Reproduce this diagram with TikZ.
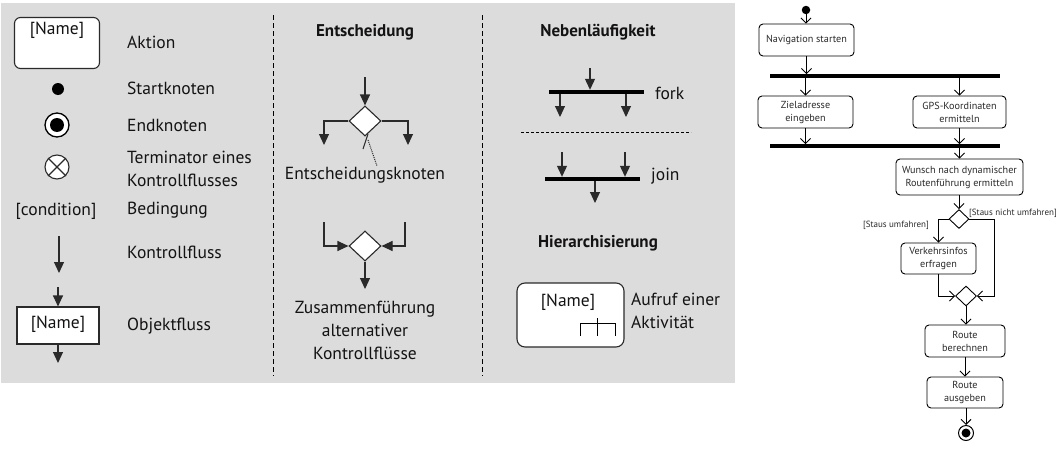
\documentclass[tikz,border=0pt]{standalone}
\usepackage{fontspec}
\setmainfont{PT Sans}
\usetikzlibrary{arrows.meta,shapes.geometric}
\definecolor{bggray}{HTML}{DCDCDC}
\definecolor{txt}{HTML}{141213}
\definecolor{lc}{HTML}{2A2A2A}
\definecolor{dtxt}{HTML}{2A2A2A}
\tikzset{
  lbl/.style={font=\fontsize{17.5}{23}\selectfont, text=txt, inner sep=0pt, anchor=west, align=left},
  ctr/.style={font=\fontsize{17.5}{23}\selectfont, text=txt, inner sep=0pt, align=center},
  head/.style={font=\fontsize{17}{19}\selectfont\bfseries, text=txt, inner sep=0pt},
  legbox/.style={draw=lc, fill=white, line width=1.1pt, inner sep=0pt},
  arr/.style={-{Triangle[length=11pt,width=10pt]}, line width=1.1pt, draw=lc},
  bar/.style={fill=black, inner sep=0pt, minimum height=4pt},
  dmd/.style={diamond, draw=lc, fill=white, line width=1.1pt, inner sep=0pt, minimum width=32pt, minimum height=30pt},
  sep/.style={draw=black, line width=0.8pt, dash pattern=on 5pt off 3pt},
  abox/.style={draw=black, fill=white, rounded corners=4pt, line width=0.9pt, align=center,
    font=\fontsize{10.2}{13}\selectfont, text=dtxt, inner sep=0pt},
  abar/.style={fill=black, inner sep=0pt, minimum height=3.5pt, minimum width=230pt},
  adm/.style={diamond, draw=black, fill=white, line width=0.9pt, inner sep=0pt, minimum width=20pt, minimum height=19pt},
  flow/.style={-{Straight Barb[length=5pt,width=10pt]}, line width=0.9pt, draw=black},
  guard/.style={font=\fontsize{9}{10}\selectfont, text=dtxt, inner sep=0pt},
}
\begin{document}
\begin{tikzpicture}[x=1pt,y=-1pt]
\useasboundingbox (0,0) rectangle (1060,455);
\fill[bggray] (1,3) rectangle (735,383);

% ---------- left legend column ----------
\node[legbox, rounded corners=6pt, minimum width=85pt, minimum height=51pt] (aktion) at (57,43) {};
\node[ctr] (aktname) at (57,30) {[Name]};
\node[lbl] (laktion) at (127,42) {Aktion};

\node[circle, fill=black, minimum size=12pt, inner sep=0pt] (startk) at (58,89) {};
\node[lbl] (lstart) at (127,88) {Startknoten};

\node[circle, draw=black, fill=white, line width=1.3pt, minimum size=24pt, inner sep=0pt] (endk) at (57,125) {};
\node[circle, fill=black, minimum size=14pt, inner sep=0pt] (endkin) at (57,125) {};
\node[lbl] (lend) at (127,125) {Endknoten};

\node[circle, draw=lc, fill=white, line width=1.1pt, minimum size=24pt, inner sep=0pt] (term) at (57,167) {};
\draw[lc, line width=1.1pt] (term.north west) -- (term.south east);
\draw[lc, line width=1.1pt] (term.north east) -- (term.south west);
\node[lbl] (lterm) at (127,168.5) {Terminator eines\\Kontrollflusses};

\node[ctr] (cond) at (56,211) {[condition]};
\node[lbl] (lcond) at (127,210) {Bedingung};

\coordinate (kf1) at (59,236);
\coordinate (kf2) at (59,273);
\draw[arr] (kf1) -- (kf2);
\node[lbl] (lkf) at (127,252) {Kontrollfluss};

\node[legbox, minimum width=82pt, minimum height=37pt] (obj) at (58,325.5) {};
\node[ctr] (objname) at (58,324) {[Name]};
\coordinate (of0) at (58,287);
\coordinate (of1) at (58,363);
\draw[arr] (of0) -- (obj.north);
\draw[arr] (obj.south) -- (of1);
\node[lbl] (lobj) at (127,326) {Objektfluss};

% ---------- separators ----------
\coordinate (sa1) at (273,15); \coordinate (sa2) at (273,376);
\coordinate (sb1) at (482,15); \coordinate (sb2) at (482,376);
\draw[sep] (sa1) -- (sa2);
\draw[sep] (sb1) -- (sb2);

% ---------- Entscheidung ----------
\node[head] (hent) at (365,32) {Entscheidung};
\node[dmd] (dec) at (365,121) {};
\coordinate (d0) at (365,77);
\coordinate (d1) at (324,145);
\coordinate (d2) at (408,145);
\draw[arr] (d0) -- (dec.north);
\draw[arr] (dec.west) -| (d1);
\draw[arr] (dec.east) -| (d2);
\coordinate (tk1) at (363,149);
\coordinate (tk2) at (368,134);
\draw[lc, line width=1pt] (tk1) -- (tk2);
\coordinate (pt1) at (368,140);
\coordinate (pt2) at (377,166);
\draw[lc, line width=1pt, densely dotted] (pt1) -- (pt2);
\node[ctr] (lent) at (365,175) {Entscheidungsknoten};

\node[dmd] (mrg) at (365,246) {};
\coordinate (m1) at (324,222);
\coordinate (m2) at (405,222);
\coordinate (m3) at (365,289);
\draw[arr] (m1) |- (mrg.west);
\draw[arr] (m2) |- (mrg.east);
\draw[arr] (mrg.south) -- (m3);
\node[ctr] (lmrg) at (365,330) {Zusammenführung\\alternativer\\Kontrollflüsse};

% ---------- Nebenläufigkeit ----------
\node[head] (hneb) at (598,32) {Nebenläufigkeit};
\node[bar, minimum width=95pt] (fork) at (596.5,92) {};
\coordinate (f0) at (590,68);
\coordinate (f1) at (560,117);
\coordinate (f2) at (626,117);
\draw[arr] (f0) -- (f0 |- fork.north);
\draw[arr] (f1 |- fork.south) -- (f1);
\draw[arr] (f2 |- fork.south) -- (f2);
\node[lbl] (lfork) at (655,93) {fork};

\coordinate (hs1) at (521,132);
\coordinate (hs2) at (691,132);
\draw[black, line width=0.7pt, dash pattern=on 3pt off 2pt] (hs1) -- (hs2);

\node[bar, minimum width=95pt] (join) at (592.5,179) {};
\coordinate (j1) at (562,152);
\coordinate (j2) at (625,152);
\coordinate (j3) at (595,203);
\draw[arr] (j1) -- (j1 |- join.north);
\draw[arr] (j2) -- (j2 |- join.north);
\draw[arr] (j3 |- join.south) -- (j3);
\node[lbl] (ljoin) at (651,176) {join};

\node[head] (hhier) at (598,243) {Hierarchisierung};
\node[legbox, rounded corners=8pt, minimum width=107pt, minimum height=64pt] (call) at (570.5,315) {};
\node[ctr] (callname) at (568,302) {[Name]};
\coordinate (rk1) at (580,336); \coordinate (rk2) at (597,336); \coordinate (rk3) at (615,336);
\coordinate (rkt) at (597,318);
\draw[black, line width=0.9pt] (rk1) |- (rk3 |- 0,323) -- (rk3);
\draw[black, line width=0.9pt] (rkt) -- (rk2);
\node[lbl] (lcall) at (631,311) {Aufruf einer\\Aktivität};

% ---------- activity diagram ----------
\node[circle, fill=black, minimum size=8.5pt, inner sep=0pt] (s) at (806,10) {};
\node[abox, minimum width=95pt, minimum height=32pt] (nav) at (806.5,40) {Navigation starten};
\node[abar] (fork1) at (885,76) {};
\node[abox, minimum width=95pt, minimum height=32pt] (ziel) at (805.5,112) {Zieladresse\\eingeben};
\node[abox, minimum width=93pt, minimum height=32pt] (gps) at (959.5,112) {GPS-Koordinaten\\ermitteln};
\node[abar] (join1) at (885,146) {};
\node[abox, minimum width=127pt, minimum height=36pt] (wunsch) at (959.5,177) {Wunsch nach dynamischer\\Routenführung ermitteln};
\node[adm] (dec2) at (959,219) {};
\node[guard, anchor=west] (gnicht) at (969,213) {[Staus nicht umfahren]};
\node[guard, anchor=east] (gum) at (929,225) {[Staus umfahren]};
\node[abox, minimum width=75pt, minimum height=31pt] (verk) at (938.5,258.5) {Verkehrsinfos\\erfragen};
\node[adm, minimum width=21pt, minimum height=20pt] (mrg2) at (966,296) {};
\node[abox, minimum width=80pt, minimum height=32pt] (route1) at (965,341) {Route\\berechnen};
\node[abox, minimum width=76pt, minimum height=31pt] (route2) at (965,392.5) {Route\\ausgeben};
\node[circle, draw=black, fill=white, line width=1pt, minimum size=15pt, inner sep=0pt] (fin) at (966,433) {};
\node[circle, fill=black, minimum size=9pt, inner sep=0pt] (finin) at (966,433) {};
\coordinate (rb) at (994,219);

\draw[flow] (s) -- (s |- nav.north);
\draw[flow] (nav.south) -- (nav.south |- fork1.north);
\draw[flow] (ziel.north |- fork1.south) -- (ziel.north);
\draw[flow] (gps.north |- fork1.south) -- (gps.north);
\draw[flow] (ziel.south) -- (ziel.south |- join1.north);
\draw[flow] (gps.south) -- (gps.south |- join1.north);
\draw[flow] (wunsch.north |- join1.south) -- (wunsch.north);
\draw[flow] (wunsch.south -| dec2.north) -- (dec2.north);
\draw[flow] (dec2.west) -| (verk.north);
\draw[flow] (dec2.east) -- (rb) |- (mrg2.east);
\draw[flow] (verk.south) |- (mrg2.west);
\draw[flow] (mrg2.south) -- (mrg2.south |- route1.north);
\draw[flow] (route1.south -| route2.north) -- (route2.north);
\draw[flow] (route2.south -| fin.north) -- (fin.north);
\end{tikzpicture}
\end{document}
